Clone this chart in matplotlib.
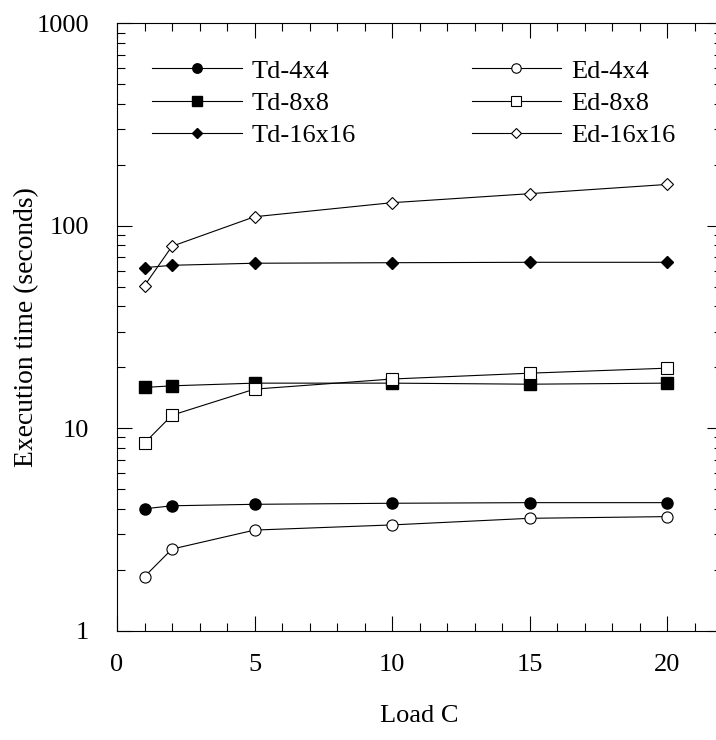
import matplotlib
matplotlib.use('Agg')
import matplotlib.pyplot as plt
from matplotlib.ticker import FixedLocator, NullFormatter, LogLocator

plt.rcParams['font.family'] = ['Liberation Serif', 'DejaVu Serif']

load = [1, 2, 5, 10, 15, 20]

td_4 = [4.0, 4.14, 4.21, 4.26, 4.29, 4.29]
td_8 = [15.9, 16.2, 16.7, 16.7, 16.5, 16.7]
td_16 = [62.1, 63.8, 65.3, 65.7, 66.0, 66.0]

ed_4 = [1.85, 2.53, 3.14, 3.33, 3.59, 3.66]
ed_8 = [8.45, 11.6, 15.6, 17.5, 18.7, 19.8]
ed_16 = [50.6, 79.2, 110.8, 130.0, 144.0, 160.0]

fig = plt.figure(figsize=(7.16, 7.4), dpi=100)
ax = fig.add_axes([117 / 716, (740 - 630.7) / 740, 605 / 716, 607.4 / 740])

lw = 0.8
h_td = []
h_td.append(ax.plot(load, td_4, '-', color='black', lw=lw, marker='o', ms=8,
                    mfc='black', mec='black', label='Td-4x4')[0])
h_td.append(ax.plot(load, td_8, '-', color='black', lw=lw, marker='s', ms=8,
                    mfc='black', mec='black', label='Td-8x8')[0])
h_td.append(ax.plot(load, td_16, '-', color='black', lw=lw, marker='D', ms=6.5,
                    mfc='black', mec='black', label='Td-16x16')[0])
h_ed = []
h_ed.append(ax.plot(load, ed_4, '-', color='black', lw=lw, marker='o', ms=8,
                    mfc='white', mec='black', mew=0.8, label='Ed-4x4')[0])
h_ed.append(ax.plot(load, ed_8, '-', color='black', lw=lw, marker='s', ms=8,
                    mfc='white', mec='black', mew=0.8, label='Ed-8x8')[0])
h_ed.append(ax.plot(load, ed_16, '-', color='black', lw=lw, marker='D', ms=6.5,
                    mfc='white', mec='black', mew=0.8, label='Ed-16x16')[0])

ax.set_yscale('log')
ax.set_xlim(0, 22)
ax.set_ylim(1, 1000)

ax.set_xticks([0, 5, 10, 15, 20])
ax.xaxis.set_minor_locator(FixedLocator(range(0, 23)))
ax.yaxis.set_major_locator(FixedLocator([1, 10, 100, 1000]))
ax.set_yticklabels(['1', '10', '100', '1000'])
ax.yaxis.set_minor_locator(LogLocator(base=10, subs=range(2, 10)))
ax.yaxis.set_minor_formatter(NullFormatter())

ax.tick_params(which='both', direction='in', top=True, right=True, width=0.8)
ax.tick_params(which='major', length=11, labelsize=19)
ax.tick_params(which='minor', length=5.5)
ax.tick_params(axis='y', which='major', pad=20)
ax.tick_params(axis='x', which='major', pad=17)
for s in ax.spines.values():
    s.set_linewidth(0.8)

ax.set_xlabel('Load C', fontsize=19, labelpad=21)
ax.set_ylabel('Execution time (seconds)', fontsize=19.8)
ax.yaxis.set_label_coords(-0.129, 0.5)

leg_kw = dict(frameon=False, fontsize=19, loc='upper left', borderpad=0,
              borderaxespad=0, handlelength=3.4, handletextpad=0.38,
              labelspacing=0.335, markerscale=0.85)
leg1 = ax.legend(handles=h_td, bbox_to_anchor=(0.058, 0.941), **leg_kw)
ax.add_artist(leg1)
ax.legend(handles=h_ed, bbox_to_anchor=(0.586, 0.941), **leg_kw)

fig.savefig('out.png', dpi=100)
